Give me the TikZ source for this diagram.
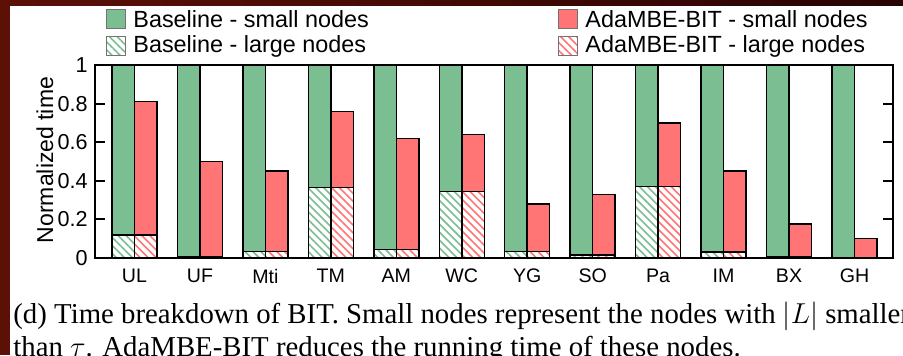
\documentclass[tikz,border=0pt]{standalone}
\usepackage{fontspec}
\setmainfont{Liberation Serif}
\newfontfamily\plotfont{Liberation Sans}
\usetikzlibrary{patterns.meta}
\definecolor{basegreen}{RGB}{122,190,146}
\definecolor{adared}{RGB}{255,117,117}
\definecolor{framered}{RGB}{92,16,6}
\definecolor{framedark}{RGB}{40,3,3}

\begin{document}
\begin{tikzpicture}[x=0.5pt,y=0.5pt,
  bar/.style={draw=black,line width=0.75pt},
  hatch/.style={pattern={Lines[angle=-45,distance=2.8pt,line width=0.8pt]},pattern color=#1},
  key/.style={draw=black!55,line width=0.4pt},
  legtext/.style={anchor=west,inner sep=0pt,font=\plotfont\fontsize{11.7}{12}\selectfont},
  ticktext/.style={anchor=east,inner sep=0pt,font=\plotfont\fontsize{10.8}{12}\selectfont},
  labtext/.style={inner sep=0pt,font=\plotfont\fontsize{9.8}{12}\selectfont},
  caption/.style={anchor=base west,inner sep=0pt,font=\fontsize{14.4}{17}\selectfont}]
\useasboundingbox (0,0) rectangle (903,355);
\fill[white] (0,0) rectangle (903,355);
% slide frame
\fill[framered] (0,0) rectangle (10,355);
\shade[left color=framered,right color=framedark] (0,350) rectangle (903,355);

% legend
\draw[key,fill=basegreen] (106,326.5) rectangle (125,345.5);
\node[legtext] (keybs) at (133,336) {Baseline - small nodes};
\draw[key,hatch=basegreen] (106,299.5) rectangle (125,318.5);
\node[legtext] (keybl) at (133,309) {Baseline - large nodes};
\draw[key,fill=adared] (558,326.5) rectangle (577,345.5);
\node[legtext] (keyas) at (585,336) {AdaMBE-BIT - small nodes};
\draw[key,hatch=adared] (558,299.5) rectangle (577,318.5);
\node[legtext] (keyal) at (585,309) {AdaMBE-BIT - large nodes};

% bars: dataset / AdaMBE-BIT total / large nodes
\foreach \lab/\red/\lg [count=\i from 0] in {UL/0.81/0.12, UF/0.50/0.005,
    Mti/0.45/0.035, TM/0.76/0.365, AM/0.62/0.045, WC/0.64/0.345,
    YG/0.28/0.035, SO/0.33/0.015, Pa/0.70/0.37, IM/0.45/0.03,
    BX/0.175/0.005, GH/0.10/0}{
  \pgfmathsetmacro\xa{112+65.45*\i}
  \pgfmathsetmacro\xb{\xa+22.5}
  \pgfmathsetmacro\xc{\xa+45}
  \pgfmathsetmacro\ylg{97+193*\lg}
  \pgfmathsetmacro\yred{97+193*\red}
  \draw[bar,hatch=basegreen] (\xa,97) rectangle (\xb,\ylg);
  \draw[bar,fill=basegreen] (\xa,\ylg) rectangle (\xb,290);
  \draw[bar,hatch=adared] (\xb,97) rectangle (\xc,\ylg);
  \draw[bar,fill=adared] (\xb,\ylg) rectangle (\xc,\yred);
  \node[labtext] (lab\i) at (\xb,79) {\lab};
}

% axes
\draw[line width=1pt] (95,97) rectangle (893,290);
\foreach \v [count=\k] in {0,0.2,0.4,0.6,0.8,1}{
  \pgfmathsetmacro\yv{97+193*\v}
  \draw[line width=1pt] (95,\yv) -- ++(10,0);
  \draw[line width=1pt] (893,\yv) -- ++(-10,0);
  \node[ticktext] (tick\k) at (88,\yv) {\v};
}
\node[rotate=90,font=\plotfont\fontsize{11.5}{12}\selectfont] (ylab) at (45,195) {Normalized time};

% caption
\node[caption] (cap1) at (13,32) {(d) Time breakdown of BIT. Small nodes represent the nodes with $|L|$ smaller};
\node[caption] (cap2) at (13,-1) {than $\tau$. AdaMBE-BIT reduces the running time of these nodes.};
\end{tikzpicture}
\end{document}
